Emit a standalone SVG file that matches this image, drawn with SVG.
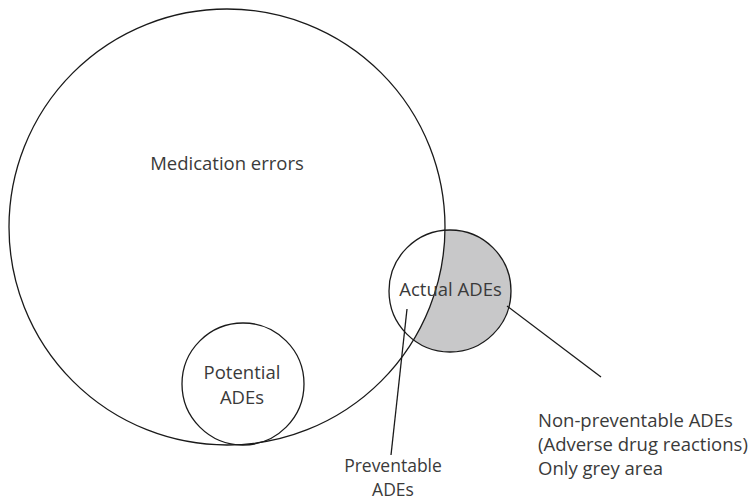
<svg xmlns="http://www.w3.org/2000/svg" width="751" height="502" viewBox="0 0 751 502">
<style>
.c{fill:none;stroke:#1a1a1a;stroke-width:1.3}
.t{font-family:"Open Sans","Liberation Sans",sans-serif;font-size:18.5px;fill:#3a3a3a}
.s{font-size:17.5px}
.m{text-anchor:middle}
.l{stroke:#1a1a1a;stroke-width:1.3;fill:none}
</style>
<rect width="751" height="502" fill="#fff"/>
<g id="nonpreventable-area">
<path d="M444.9 230.2 A61 61 0 1 1 413.5 339.9 A218 218 0 0 0 444.9 230.2 Z" fill="#c8c8c9"/>
</g>
<g id="medication-errors">
<circle class="c" cx="227" cy="227" r="218"/>
<text class="t m" x="227" y="170">Medication errors</text>
</g>
<g id="potential-ades">
<circle class="c" cx="243" cy="384" r="61"/>
<text class="t m" x="242" y="379">Potential</text>
<text class="t m" x="242" y="404">ADEs</text>
</g>
<g id="actual-ades">
<circle class="c" cx="450" cy="291" r="61"/>
<text class="t m" x="450.5" y="296">Actual ADEs</text>
</g>
<g id="connectors">
<line class="l" x1="407" y1="309" x2="391" y2="455"/>
<line class="l" x1="507" y1="306" x2="601" y2="377"/>
</g>
<g id="preventable-label">
<text class="t s m" x="393" y="472">Preventable</text>
<text class="t s m" x="393" y="496">ADEs</text>
</g>
<g id="nonpreventable-label">
<text class="t" x="538" y="427">Non-preventable ADEs</text>
<text class="t" x="538" y="451">(Adverse drug reactions)</text>
<text class="t" x="538" y="475">Only grey area</text>
</g>
</svg>
